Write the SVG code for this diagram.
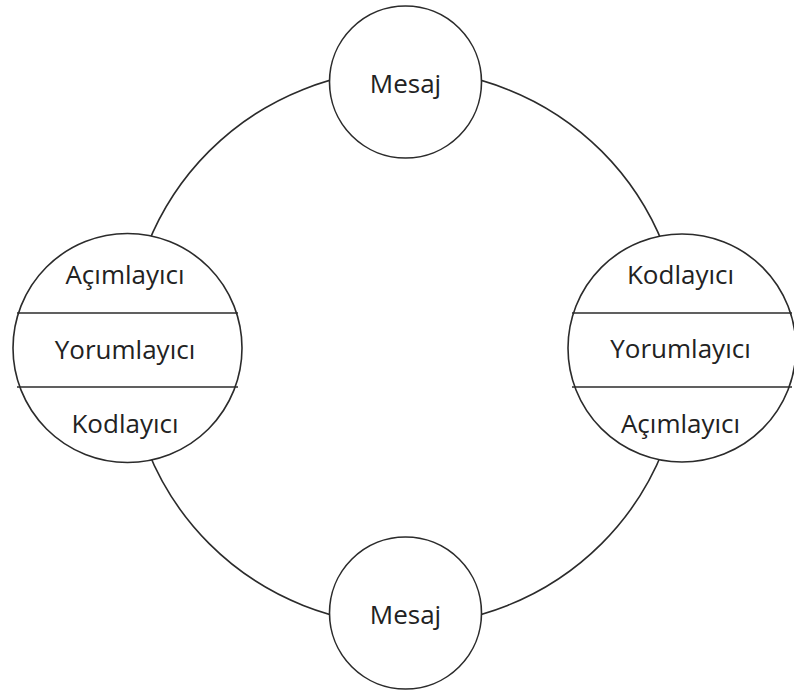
<svg xmlns="http://www.w3.org/2000/svg" width="794" height="693" viewBox="0 0 794 693">
  <style>
    .ring { fill: none; stroke: #2b2b2b; stroke-width: 1.6; }
    .node { fill: #ffffff; stroke: #2b2b2b; stroke-width: 1.6; }
    .div { stroke: #2b2b2b; stroke-width: 1.6; }
    .lbl { font-family: "Open Sans", "Noto Sans", sans-serif; font-size: 26px; fill: #222222; text-anchor: middle; }
  </style>
  <rect width="794" height="693" fill="#ffffff"/>
  <g id="connectors">
    <circle class="ring" cx="405.4" cy="347.4" r="277.5"/>
  </g>
  <g id="mesaj-top">
    <circle class="node" cx="405.5" cy="82" r="76"/>
    <text class="lbl" x="405.5" y="93">Mesaj</text>
  </g>
  <g id="mesaj-bottom">
    <circle class="node" cx="405.5" cy="613" r="76"/>
    <text class="lbl" x="405.5" y="624">Mesaj</text>
  </g>
  <g id="left-node">
    <circle class="node" cx="127.5" cy="348" r="114.5"/>
    <line class="div" x1="17" y1="313" x2="238" y2="313"/>
    <line class="div" x1="17" y1="387" x2="238" y2="387"/>
    <text class="lbl" x="125" y="284">Açımlayıcı</text>
    <text class="lbl" x="125" y="359">Yorumlayıcı</text>
    <text class="lbl" x="125" y="433">Kodlayıcı</text>
  </g>
  <g id="right-node">
    <circle class="node" cx="682" cy="348" r="114"/>
    <line class="div" x1="572" y1="313" x2="792" y2="313"/>
    <line class="div" x1="572" y1="387" x2="792" y2="387"/>
    <text class="lbl" x="680.5" y="283.5">Kodlayıcı</text>
    <text class="lbl" x="680.5" y="358">Yorumlayıcı</text>
    <text class="lbl" x="680.5" y="433">Açımlayıcı</text>
  </g>
</svg>
